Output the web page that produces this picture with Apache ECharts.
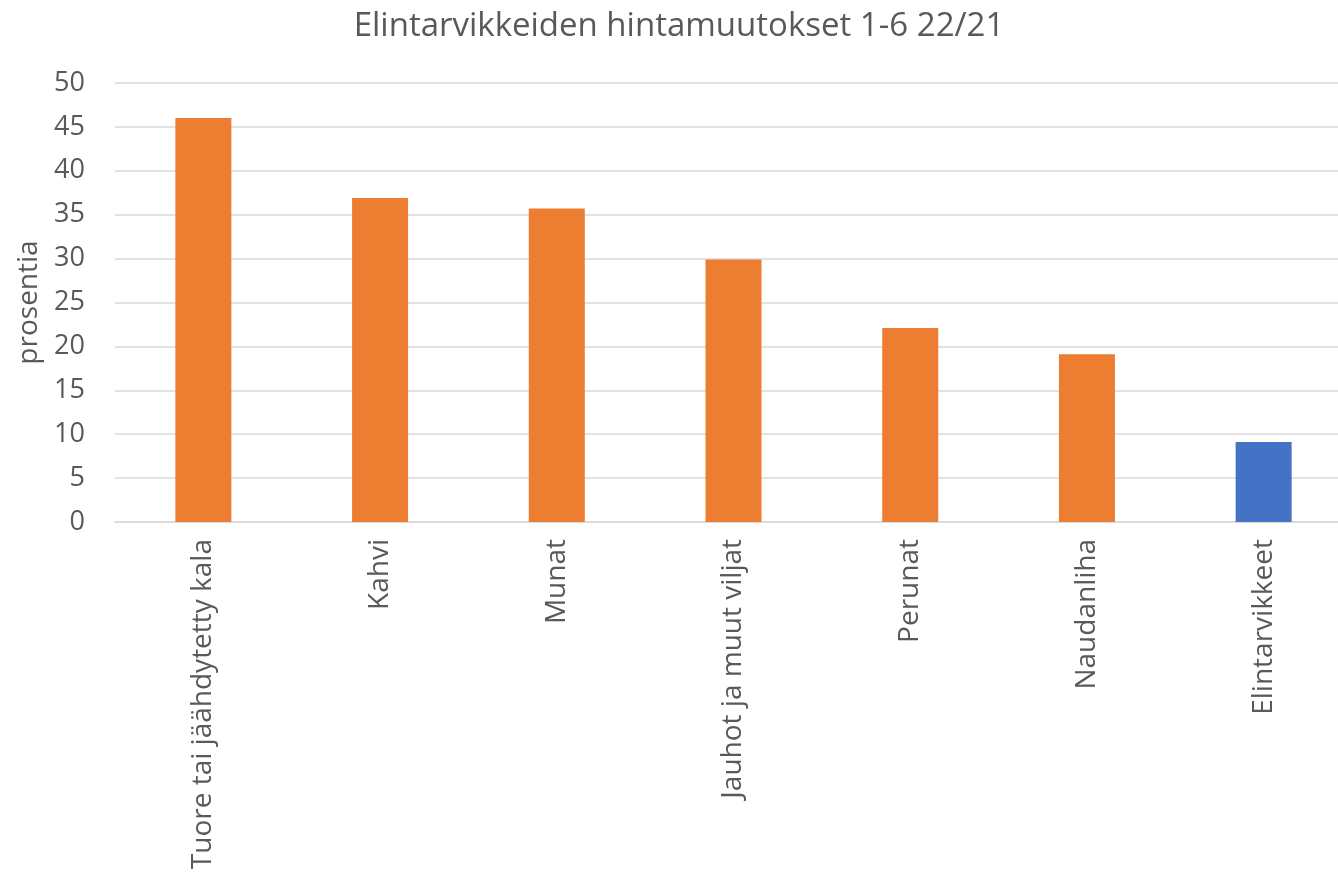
<!DOCTYPE html>
<html>
<head>
<meta charset="utf-8">
<script src="https://cdn.jsdelivr.net/npm/echarts@6/dist/echarts.min.js"></script>
<style>
  html, body { margin: 0; padding: 0; background: #fff; }
  #main { width: 1338px; height: 876px; }
</style>
</head>
<body>
<div id="main"></div>
<script>
const categories = ['Tuore tai jäähdytetty kala', 'Kahvi', 'Munat', 'Jauhot ja muut viljat', 'Perunat', 'Naudanliha', 'Elintarvikkeet'];
const values = [46, 36.9, 35.7, 29.9, 22.1, 19.1, 9.1];
const barColors = ['#ED7D31', '#ED7D31', '#ED7D31', '#ED7D31', '#ED7D31', '#ED7D31', '#4472C4'];

const font = 'Open Sans';
const myChart = echarts.init(document.getElementById('main'));
const option = {
  animation: false,
  title: {
    text: 'Elintarvikkeiden hintamuutokset 1-6 22/21',
    left: 674,
    textAlign: 'center',
    top: 5,
    textStyle: { fontFamily: font, fontSize: 33, fontWeight: 'normal', color: '#595959' }
  },
  grid: { left: 115, top: 83, width: 1237, height: 439, outerBoundsMode: 'none' },
  xAxis: {
    type: 'category',
    data: categories,
    axisLine: { lineStyle: { color: '#D9D9D9', width: 1.5 } },
    axisTick: { show: false },
    axisLabel: {
      rotate: 90,
      interval: 0,
      margin: 17,
      fontFamily: font,
      fontSize: 28,
      color: '#595959'
    }
  },
  yAxis: {
    type: 'value',
    min: 0,
    max: 50,
    interval: 5,
    name: 'prosentia',
    nameLocation: 'middle',
    nameGap: 72,
    nameTextStyle: { fontFamily: font, fontSize: 28, color: '#595959' },
    axisLine: { show: false },
    axisTick: { show: false },
    splitLine: { lineStyle: { color: '#D9D9D9', width: 1.5 } },
    axisLabel: { fontFamily: font, fontSize: 27, color: '#595959', margin: 30 }
  },
  series: [{
    type: 'bar',
    barWidth: 56,
    data: values.map((v, i) => ({ value: v, itemStyle: { color: barColors[i] } }))
  }]
};
myChart.setOption(option);
</script>
</body>
</html>
